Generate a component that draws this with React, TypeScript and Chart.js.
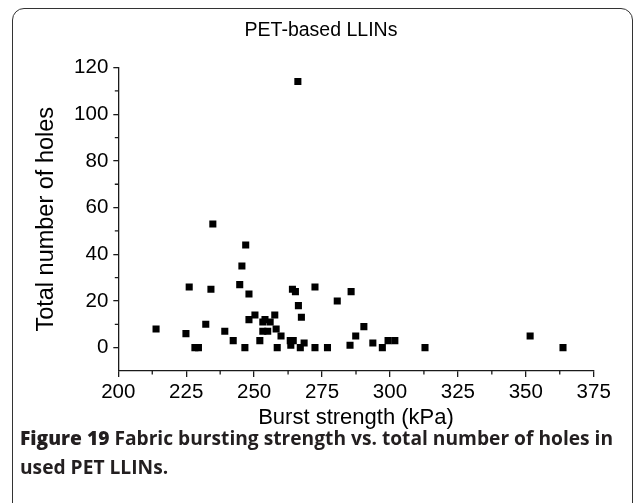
import React, { useEffect, useRef } from "react";
import { Chart, registerables } from "chart.js";

Chart.register(...registerables);

const chartTitle = "PET-based LLINs";
const xAxisTitle = "Burst strength (kPa)";
const yAxisTitle = "Total number of holes";

const burstStrength = [
  213.9, 224.9, 226.1, 228.2, 229.5, 232.2, 234.1, 234.8, 239.2, 242.3,
  244.7, 245.5, 246.6, 246.9, 248.1, 248.1, 250.3, 252.1, 253.2, 254.0,
  255.9, 253.2, 255.0, 257.6, 258.1, 258.5, 259.9, 263.3, 264.4, 263.5,
  264.1, 265.2, 266.1, 266.3, 267.0, 267.4, 268.4, 272.4, 272.4, 277.0,
  280.6, 285.3, 285.7, 287.4, 290.4, 293.7, 297.2, 299.3, 301.8, 312.9,
  351.6, 363.7,
];
const holes = [
  8, 6, 26, 0, 0, 10, 25, 53, 7, 3,
  27, 35, 0, 44, 23, 12, 14, 3, 11, 12,
  11, 7, 7, 14, 8, 0, 5, 3, 3, 1,
  25, 24, 114, 18, 0, 13, 2, 26, 0, 0,
  20, 1, 24, 5, 9, 2, 0, 3, 3, 0,
  5, 0,
];

const xTicks = [200, 225, 250, 275, 300, 325, 350, 375];
const xMinorTicks = [212.5, 237.5, 262.5, 287.5, 312.5, 337.5, 362.5];
const yTicks = [0, 20, 40, 60, 80, 100, 120];
const yMinorTicks = [10, 30, 50, 70, 90, 110];

const AXIS_COLOR = "#1a1a1a";
const FONT = '"Liberation Sans", Arial, sans-serif';

const extrasPlugin = {
  id: "extras",
  afterDraw(chart: any) {
    const { ctx, chartArea, scales } = chart;
    ctx.save();
    ctx.strokeStyle = AXIS_COLOR;
    ctx.lineWidth = 1.3;
    ctx.beginPath();
    xMinorTicks.forEach((v) => {
      const px = scales.x.getPixelForValue(v);
      ctx.moveTo(px, chartArea.bottom);
      ctx.lineTo(px, chartArea.bottom + 3.5);
    });
    yMinorTicks.forEach((v) => {
      const py = scales.y.getPixelForValue(v);
      ctx.moveTo(chartArea.left, py);
      ctx.lineTo(chartArea.left - 3.5, py);
    });
    ctx.stroke();
    ctx.fillStyle = "#000";
    ctx.font = "19.5px " + FONT;
    ctx.textAlign = "center";
    ctx.textBaseline = "middle";
    ctx.fillText(chartTitle, 321, 31);
    ctx.restore();
  },
};

export default function App() {
  const canvasRef = useRef<HTMLCanvasElement | null>(null);

  useEffect(() => {
    if (!canvasRef.current) return;
    const points = burstStrength.map((x, i) => ({ x, y: holes[i] }));
    const chart = new Chart(canvasRef.current, {
      type: "scatter",
      data: {
        datasets: [
          {
            data: points,
            pointStyle: "rect",
            pointRadius: 5,
            pointHoverRadius: 5,
            backgroundColor: "#000",
            borderColor: "#000",
            borderWidth: 0,
          },
        ],
      },
      options: {
        responsive: false,
        animation: false,
        events: [],
        layout: { padding: { left: 0, top: 67.5, right: 40.3, bottom: 0 } },
        plugins: {
          legend: { display: false },
          tooltip: { enabled: false },
          title: { display: false },
        },
        scales: {
          x: {
            type: "linear",
            min: 200,
            max: 375,
            afterBuildTicks: (s: any) => {
              s.ticks = xTicks.map((v) => ({ value: v }));
            },
            afterFit: (s: any) => {
              s.height = 132;
            },
            grid: {
              drawOnChartArea: false,
              drawTicks: true,
              tickLength: 6,
              color: AXIS_COLOR,
              lineWidth: 1.3,
            },
            border: { display: true, color: AXIS_COLOR, width: 1.3 },
            ticks: {
              color: "#000",
              padding: 3,
              maxRotation: 0,
              font: { size: 20.5, family: FONT },
            },
            title: {
              display: true,
              text: xAxisTitle,
              color: "#000",
              font: { size: 22, family: FONT },
              padding: { top: 0, bottom: 71.8 },
            },
          },
          y: {
            type: "linear",
            min: -10,
            max: 120,
            afterBuildTicks: (s: any) => {
              s.ticks = yTicks.map((v) => ({ value: v }));
            },
            afterFit: (s: any) => {
              s.width = 118.3;
            },
            grid: {
              drawOnChartArea: false,
              drawTicks: true,
              tickLength: 5,
              color: AXIS_COLOR,
              lineWidth: 1.3,
            },
            border: { display: true, color: AXIS_COLOR, width: 1.3 },
            ticks: {
              color: "#000",
              padding: 5,
              font: { size: 20.5, family: FONT },
            },
            title: {
              display: true,
              text: yAxisTitle,
              color: "#000",
              font: { size: 23.5, family: FONT },
              padding: { top: 32.9, bottom: 0 },
            },
          },
        },
      },
      plugins: [extrasPlugin],
    });
    return () => chart.destroy();
  }, []);

  return (
    <div
      style={{
        position: "fixed",
        left: 0,
        top: 0,
        width: 634,
        height: 503,
        overflow: "hidden",
        background: "#fff",
      }}
    >
      <div
        style={{
          position: "absolute",
          left: 12,
          top: 8,
          width: 619,
          height: 600,
          border: "1.5px solid #333",
          borderRadius: "12px 12px 0 0",
        }}
      />
      <canvas
        ref={canvasRef}
        width={634}
        height={503}
        style={{ position: "absolute", left: 0, top: 0, width: 634, height: 503 }}
      />
      <div
        style={{
          position: "absolute",
          left: 20,
          top: 423,
          width: 612,
          fontFamily: '"Open Sans", "Noto Sans", sans-serif',
          fontWeight: 700,
          fontSize: 19.2,
          lineHeight: "29px",
          color: "#231f20",
          whiteSpace: "nowrap",
        }}
      >
        <div>
          <span style={{ fontWeight: 800 }}>Figure 19</span> Fabric bursting strength vs. total number of holes in
        </div>
        <div>used PET LLINs.</div>
      </div>
    </div>
  );
}
